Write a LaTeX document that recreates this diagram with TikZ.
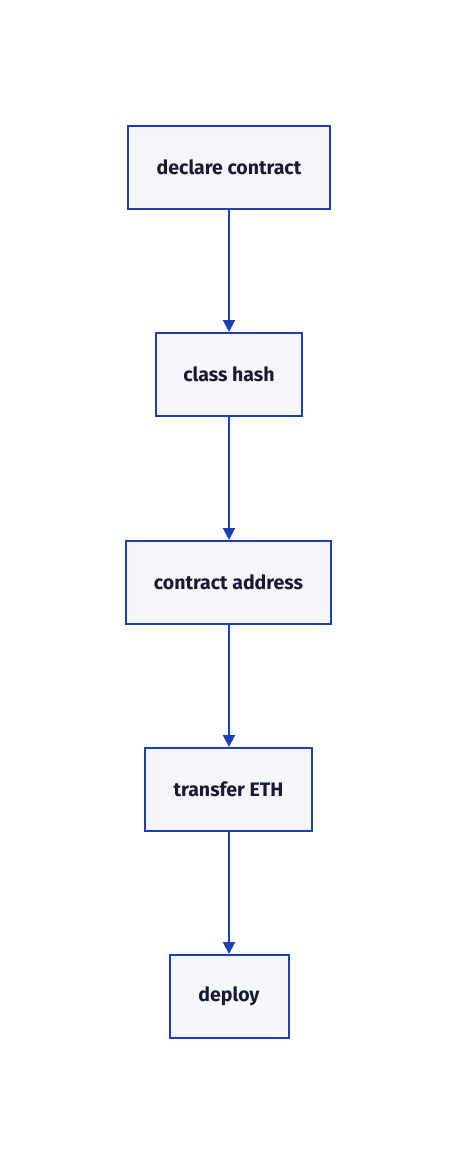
\documentclass[tikz,border=0pt]{standalone}
\usepackage{fontspec}
\setmainfont{Fira Sans}
\usetikzlibrary{arrows.meta}
\definecolor{edge}{HTML}{1E3FB4}
\definecolor{boxfill}{HTML}{F6F7FD}
\definecolor{txt}{HTML}{141B33}
\tikzset{
  stepbox/.style={draw=edge, fill=boxfill, line width=2pt, minimum height=83pt, inner sep=0pt, text=txt, font=\fontsize{19.5}{22}\selectfont\bfseries},
  flow/.style={draw=edge, line width=2pt, -{Triangle[length=12pt,width=12pt]}}
}
\begin{document}
\begin{tikzpicture}[x=1pt,y=-1pt]
\useasboundingbox (0,0) rectangle (457,1165);
\node[stepbox, minimum width=202pt] (a) at (229,167.5) {declare contract};
\node[stepbox, minimum width=146pt] (b) at (229,374.5) {class hash};
\node[stepbox, minimum width=205pt] (c) at (228.5,582.5) {contract address};
\node[stepbox, minimum width=167pt] (d) at (228.5,789.5) {transfer ETH};
\node[stepbox, minimum width=119pt] (e) at (229,996.5) {deploy};
\draw[flow] (a.south -| 229,0) -- (b.north -| 229,0);
\draw[flow] (b.south -| 229,0) -- (c.north -| 229,0);
\draw[flow] (c.south -| 229,0) -- (d.north -| 229,0);
\draw[flow] (d.south -| 229,0) -- (e.north -| 229,0);
\end{tikzpicture}
\end{document}
